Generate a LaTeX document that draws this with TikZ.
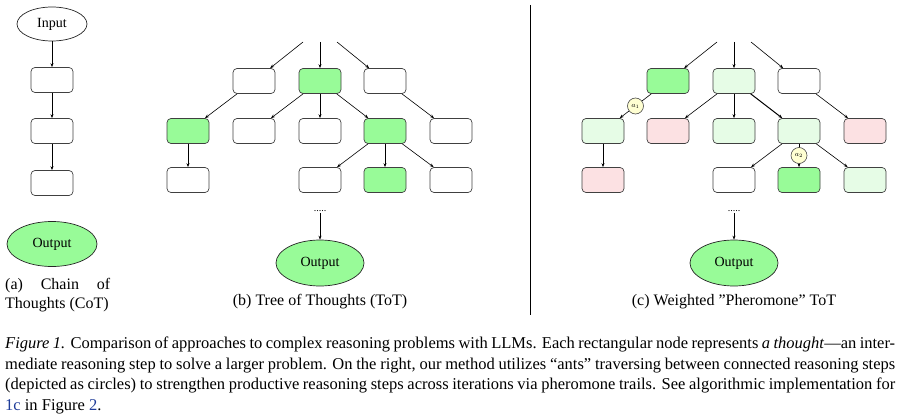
\documentclass[tikz,border=0pt]{standalone}
\usepackage{fontspec}
\setmainfont{Liberation Serif}
\usetikzlibrary{shapes.geometric,arrows.meta}
\definecolor{goodleaf}{HTML}{98FB98}
\definecolor{paleleaf}{HTML}{E6FCE6}
\definecolor{badleaf}{HTML}{FCE1E3}
\definecolor{antfill}{HTML}{FFFFD2}
\definecolor{reflink}{HTML}{1F3C99}

\begin{document}
\begin{tikzpicture}[x=1pt,y=-1pt,
    thought/.style={draw=black!75,rounded corners=4pt,minimum width=42pt,minimum height=25pt,line width=0.7pt,inner sep=0pt},
    io/.style={ellipse,draw=black!85,line width=0.7pt,font=\fontsize{14}{16}\selectfont,inner sep=0pt},
    ant/.style={circle,draw=black!70,fill=antfill,line width=0.6pt,minimum size=16pt,inner sep=0pt,font=\fontsize{7}{7}\selectfont},
    sub/.style={font=\fontsize{16}{19}\selectfont,inner sep=0pt}]
    \path[use as bounding box] (0,0) rectangle (900,420);

    % (a) chain of thoughts
    \node[io,minimum width=70pt,minimum height=34pt] at (52,24) (in) {Input};
    \node[thought] at (52,80) (c1) {};
    \node[thought] at (52,131) (c2) {};
    \node[thought] at (52,183) (c3) {};
    \node[io,fill=goodleaf,minimum width=90pt,minimum height=45pt] at (52,244) (cout) {Output};
    \path[->, line width=0.6pt, >={Stealth[length=4pt,width=3pt]}]
        (in) edge (c1)
        (c1) edge (c2)
        (c2) edge (c3);
    \node[sub,anchor=north west,text width=105pt,align=justify] at (5,278) (capa) {(a) Chain of\linebreak Thoughts (CoT)};

    % (b) tree of thoughts
    \coordinate (btop1) at (303,42);
    \coordinate (btop2) at (320,42);
    \coordinate (btop3) at (337,42);
    \node[thought] at (254,81) (b12) {};
    \node[thought,fill=goodleaf] at (320,81) (b13) {};
    \node[thought] at (385,81) (b14) {};
    \node[thought,fill=goodleaf] at (188,131) (b21) {};
    \node[thought] at (254,131) (b22) {};
    \node[thought] at (320,131) (b23) {};
    \node[thought,fill=goodleaf] at (385,131) (b24) {};
    \node[thought] at (451,131) (b25) {};
    \node[thought] at (188,180) (b31) {};
    \node[thought] at (320,180) (b33) {};
    \node[thought,fill=goodleaf] at (385,180) (b34) {};
    \node[thought] at (451,180) (b35) {};
    \node[inner sep=1pt,font=\fontsize{10}{10}\selectfont] at (320,211) (bdots) {.....};
    \node[io,fill=goodleaf,minimum width=88pt,minimum height=46pt] at (320,263) (bout) {Output};
    \path[->, line width=0.6pt, >={Stealth[length=4pt,width=3pt]}]
        (btop1) edge (b12)
        (btop2) edge (b13)
        (btop3) edge (b14)
        (b12) edge (b21)
        (b13) edge (b22)
        (b13) edge (b23)
        (b13) edge (b24)
        (b14) edge (b25)
        (b21) edge (b31)
        (b24) edge (b33)
        (b24) edge (b34)
        (b24) edge (b35)
        (bdots) edge (bout);
    \node[sub] at (320,302) (capb) {(b) Tree of Thoughts (ToT)};

    \draw[line width=0.9pt] (530,5) -- (530,315);

    % (c) weighted pheromone tree
    \coordinate (ctop1) at (717,42);
    \coordinate (ctop2) at (734,42);
    \coordinate (ctop3) at (751,42);
    \node[thought,fill=goodleaf] at (668,81) (c12) {};
    \node[thought,fill=paleleaf] at (734,81) (c13) {};
    \node[thought] at (799,81) (c14) {};
    \node[thought,fill=paleleaf] at (603,131) (c21) {};
    \node[thought,fill=badleaf] at (668,131) (c22) {};
    \node[thought,fill=paleleaf] at (734,131) (c23) {};
    \node[thought,fill=paleleaf] at (799,131) (c24) {};
    \node[thought,fill=badleaf] at (865,131) (c25) {};
    \node[thought,fill=badleaf] at (603,180) (c31) {};
    \node[thought] at (734,180) (c33) {};
    \node[thought,fill=goodleaf] at (799,180) (c34) {};
    \node[thought,fill=paleleaf] at (865,180) (c35) {};
    \node[inner sep=1pt,font=\fontsize{10}{10}\selectfont] at (734,211) (cdots) {.....};
    \node[io,fill=goodleaf,minimum width=88pt,minimum height=46pt] at (734,263) (cout2) {Output};
    \path[->, line width=0.6pt, >={Stealth[length=4pt,width=3pt]}]
        (ctop1) edge (c12)
        (ctop2) edge (c13)
        (ctop3) edge (c14)
        (c12) edge node[ant] {$a_1$} (c21)
        (c13) edge (c22)
        (c13) edge (c23)
        (c13) edge[line width=1pt] (c24)
        (c14) edge (c25)
        (c21) edge (c31)
        (c24) edge (c33)
        (c24) edge node[ant] {$a_2$} (c34)
        (c24) edge (c35)
        (cdots) edge (cout2);
    \node[sub] at (734,302) (capc) {(c) Weighted ''Pheromone'' ToT};

    % figure caption
    \node[anchor=north west,text width=890pt,align=justify,inner sep=0pt,font=\fontsize{16.5}{20.5}\selectfont] at (5,337) (figcap)
        {\textit{Figure 1.} Comparison of approaches to complex reasoning problems with LLMs. Each rectangular node represents \textit{a thought}---an inter-\linebreak
        mediate reasoning step to solve a larger problem. On the right, our method utilizes ``ants'' traversing between connected reasoning steps\linebreak
        (depicted as circles) to strengthen productive reasoning steps across iterations via pheromone trails. See algorithmic implementation for\linebreak
        \textcolor{reflink}{1c} in Figure \textcolor{reflink}{2}.};
\end{tikzpicture}
\end{document}
